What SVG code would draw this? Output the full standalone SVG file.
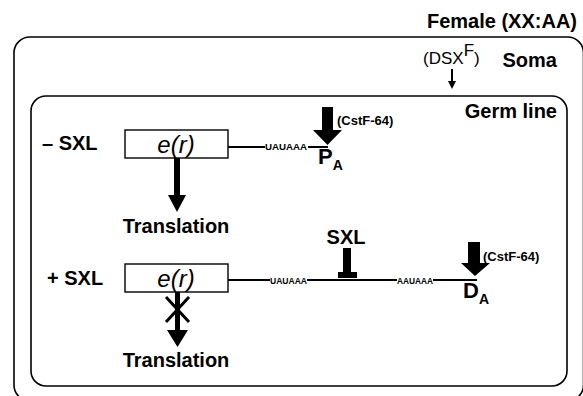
<svg xmlns="http://www.w3.org/2000/svg" width="583" height="396" viewBox="0 0 583 396">
<style>
.b{font-family:"Liberation Sans",Arial,sans-serif;font-weight:bold;fill:#000}
.n{font-family:"Liberation Sans",Arial,sans-serif;fill:#000}
.frame{fill:none;stroke:#000;stroke-width:1.6}
.ln{stroke:#000;stroke-width:2;fill:none}
.box{fill:#fff;stroke:#000;stroke-width:1.4}
</style>
<rect width="583" height="396" fill="#fff"/>
<g id="soma">
<rect class="frame" x="14" y="37" width="569.5" height="364" rx="16"/>
<text class="b" x="577" y="28" font-size="20" text-anchor="end">Female (XX:AA)</text>
<text class="b" x="557" y="67" font-size="20" text-anchor="end">Soma</text>
<text class="n" x="423" y="64" font-size="17">(DSX<tspan dy="-8">F</tspan><tspan dy="8">)</tspan></text>
</g>
<g id="germline">
<rect class="frame" x="31" y="96" width="536" height="290" rx="15"/>
<text class="b" x="557" y="118" font-size="20" text-anchor="end">Germ line</text>
</g>
<g id="row1">
<text class="b" x="42" y="150" font-size="20">– SXL</text>
<rect class="box" x="125" y="130" width="103" height="28"/>
<text class="n" x="176" y="153" font-size="24" font-style="italic" text-anchor="middle">e(r)</text>
<text class="b" x="265" y="150" font-size="9" textLength="42" lengthAdjust="spacingAndGlyphs">UAUAAA</text>
<text class="b" x="176" y="233" font-size="20" text-anchor="middle">Translation</text>
<text class="b" x="337" y="125" font-size="13">(CstF-64)</text>
<text class="b" x="318" y="164" font-size="22">P<tspan font-size="14" dy="6">A</tspan></text>
</g>
<g id="row2">
<text class="b" x="47" y="285" font-size="20">+ SXL</text>
<rect class="box" x="125" y="264" width="103" height="28"/>
<text class="n" x="176" y="287" font-size="24" font-style="italic" text-anchor="middle">e(r)</text>
<text class="b" x="270" y="284" font-size="9" textLength="37" lengthAdjust="spacingAndGlyphs">UAUAAA</text>
<text class="b" x="397" y="284" font-size="9" textLength="36" lengthAdjust="spacingAndGlyphs">AAUAAA</text>
<text class="b" x="346" y="244" font-size="20" text-anchor="middle">SXL</text>
<text class="b" x="176" y="367" font-size="20" text-anchor="middle">Translation</text>
<text class="b" x="483" y="261" font-size="13">(CstF-64)</text>
<text class="b" x="463" y="298" font-size="22">D<tspan font-size="14" dy="6">A</tspan></text>
</g>
<g id="connectors">
<line class="ln" x1="452" y1="69" x2="452" y2="82" stroke-width="1.5"/>
<polygon points="448,81 456,81 452,89"/>
<line class="ln" x1="228" y1="147" x2="265" y2="147"/>
<line class="ln" x1="308" y1="147" x2="328" y2="147"/>
<rect x="174" y="158" width="6" height="38"/>
<polygon points="168,195 186,195 177,212"/>
<polygon points="322,107 333,107 333,130 342,130 327.5,145 313,130 322,130"/>
<line class="ln" x1="228" y1="280" x2="270" y2="280"/>
<line class="ln" x1="307" y1="280" x2="397" y2="280"/>
<line class="ln" x1="433" y1="280" x2="477" y2="280"/>
<rect x="343" y="248" width="8" height="26"/>
<rect x="338" y="272" width="19" height="6"/>
<polygon points="468,242 480,242 480,263 490,263 475,276 461,263 468,263"/>
<rect x="175" y="292" width="5" height="40"/>
<polygon points="167,330 188,330 177.5,347"/>
<line x1="166" y1="297" x2="189" y2="322" stroke="#000" stroke-width="3"/>
<line x1="189" y1="297" x2="166" y2="322" stroke="#000" stroke-width="3"/>
</g>
</svg>
